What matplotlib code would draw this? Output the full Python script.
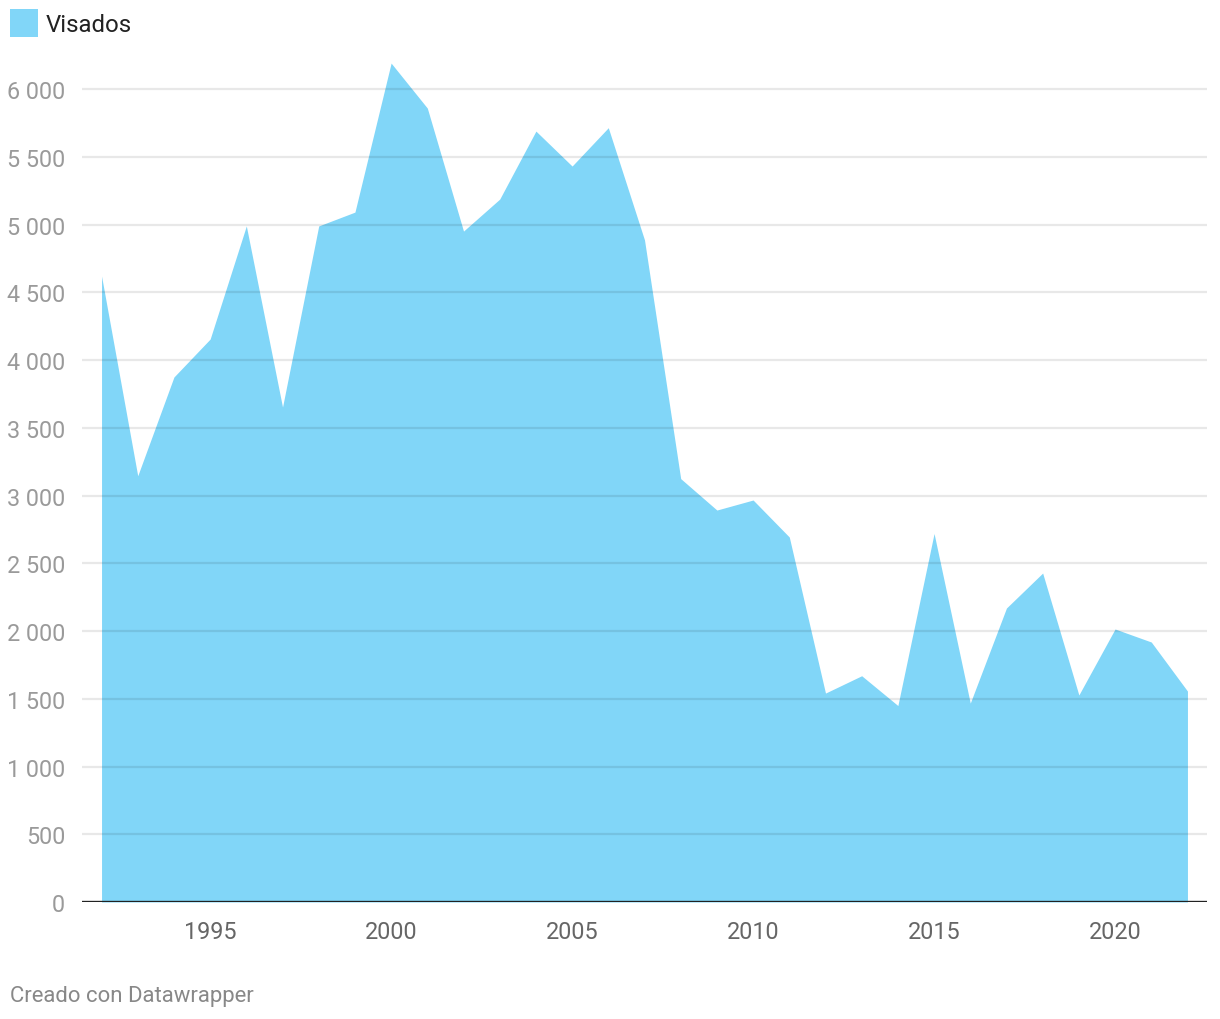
import numpy as np
import matplotlib
matplotlib.use("Agg")
import matplotlib.pyplot as plt
from matplotlib.patches import Rectangle

plt.rcParams['font.family'] = ['Roboto', 'DejaVu Sans']

# data
years = list(range(1992, 2023))
visados = [4620, 3146, 3875, 4155, 4990, 3653, 4990, 5092, 6192, 5860,
           4952, 5188, 5690, 5432, 5715, 4887, 3125, 2893, 2967, 2694,
           1542, 1670, 1450, 2720, 1468, 2170, 2428, 1528, 2015, 1919, 1557]
yticks = [0, 500, 1000, 1500, 2000, 2500, 3000, 3500, 4000, 4500, 5000, 5500, 6000]
xticks = [1995, 2000, 2005, 2010, 2015, 2020]
fill_color = "#81d6f8"

fig = plt.figure(figsize=(12.2, 10.2), dpi=100)
ax = fig.add_axes([82 / 1220, 1 - 903 / 1020, (1207 - 82) / 1220, (903 - 63) / 1020])

ax.fill_between(years, visados, 0, color=fill_color, linewidth=0, zorder=1)

# grid lines drawn over the area, semi-transparent
for v in yticks[1:]:
    ax.axhline(v, color="black", alpha=0.09, linewidth=1.6, zorder=2)
ax.axhline(0, color="#222222", linewidth=2.4, zorder=3)

ax.set_xlim(1991.46, 2022.54)
ax.set_ylim(0, 6200)
ax.set_yticks(yticks)
ax.set_yticklabels([f"{v:,}".replace(",", " ") for v in yticks])
ax.set_xticks(xticks)
ax.set_xticklabels([str(x) for x in xticks])
ax.tick_params(axis="y", length=0, pad=12, labelsize=16.8, labelcolor="#9a9a9a")
ax.tick_params(axis="x", length=0, pad=13, labelsize=16.8, labelcolor="#666666")
for s in ax.spines.values():
    s.set_visible(False)

# legend
fig.patches.append(Rectangle((10 / 1220, 1 - 38 / 1020), 28 / 1220, 28 / 1020,
                             transform=fig.transFigure, facecolor=fill_color,
                             edgecolor="none"))
fig.text(46 / 1220, 1 - 26 / 1020, "Visados", fontsize=17.3, color="#222222",
         va="center", ha="left")

fig.text(10 / 1220, 1 - 997 / 1020, "Creado con Datawrapper", fontsize=15.9,
         color="#888888", va="center", ha="left")

fig.savefig("out.png", dpi=100)
